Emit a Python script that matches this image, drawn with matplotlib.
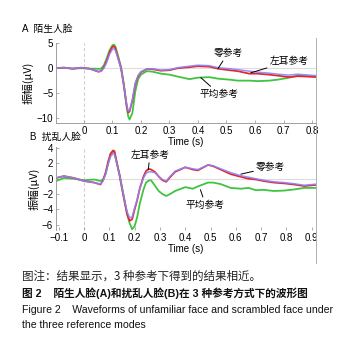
import matplotlib
matplotlib.use("Agg")
import matplotlib.pyplot as plt
from matplotlib.lines import Line2D

plt.rcParams['font.family'] = ['Liberation Sans', 'Noto Sans CJK SC', 'DejaVu Sans']
plt.rcParams['axes.unicode_minus'] = True

# ---------------- Panel A data (陌生人脸) ----------------
tA = [-0.10, -0.07, -0.04, -0.01, 0.02, 0.04, 0.05, 0.06, 0.07, 0.08, 0.09, 0.10, 0.105, 0.11,
      0.12, 0.13, 0.14, 0.15, 0.155, 0.16, 0.17, 0.18, 0.19, 0.20, 0.22, 0.24, 0.27, 0.30,
      0.33, 0.37, 0.40, 0.44, 0.47, 0.51, 0.54, 0.58, 0.61, 0.65, 0.68, 0.72, 0.75, 0.79, 0.82]
redA = [0.0, 0.1, -0.1, 0.1, -0.1, -0.5, -0.7, -0.6, 0.2, 1.5, 3.2, 4.3, 4.4, 4.0,
        2.0, 0.0, -3.5, -7.6, -8.9, -8.7, -6.5, -3.2, -1.6, -0.8, -0.2, -0.2, -0.5, -0.4,
        0.0, 0.2, 0.4, 0.3, -0.1, -0.4, -0.6, -1.1, -1.1, -1.3, -1.5, -1.8, -1.6, -1.7, -1.8]
blueA = [0.0, 0.1, -0.1, 0.1, -0.1, -0.5, -0.7, -0.6, 0.0, 1.2, 2.8, 3.8, 3.9, 3.6,
         1.9, 0.0, -3.4, -7.3, -8.6, -8.5, -6.3, -3.0, -1.5, -0.7, -0.2, -0.1, -0.4, -0.3,
         0.1, 0.4, 0.6, 0.5, 0.1, -0.1, -0.3, -0.6, -0.8, -1.0, -1.2, -1.4, -1.2, -1.4, -1.5]
greenA = [0.0, 0.1, -0.1, 0.0, -0.1, -0.1, -0.15, -0.1, 0.6, 2.0, 3.6, 4.6, 4.7, 4.4,
          2.4, 0.3, -3.2, -7.8, -9.6, -10.3, -9.0, -4.7, -2.2, -1.3, -0.6, -0.7, -1.1, -1.3,
          -1.7, -2.2, -1.9, -1.8, -2.1, -2.3, -2.5, -2.5, -2.6, -2.5, -2.3, -1.9, -1.5, -1.6, -1.7]

# ---------------- Panel B data (扰乱人脸) ----------------
tB = [-0.11, -0.08, -0.04, 0.0, 0.04, 0.065, 0.075, 0.085, 0.095, 0.105, 0.115, 0.12,
      0.13, 0.14, 0.15, 0.16, 0.17, 0.18, 0.19, 0.20, 0.21, 0.22, 0.235, 0.245, 0.255,
      0.265, 0.28, 0.295, 0.31, 0.325, 0.34, 0.36, 0.40, 0.43, 0.45, 0.49, 0.51, 0.54,
      0.58, 0.62, 0.65, 0.68, 0.71, 0.75, 0.79, 0.83, 0.87, 0.92]
redB = [0.1, 0.35, 0.1, -0.3, -0.5, -0.75, -0.2, 0.8, 2.2, 3.3, 3.7, 3.6,
        2.0, 0.5, -1.3, -3.0, -4.6, -5.5, -5.3, -4.0, -2.8, -1.3, 0.3, 1.0, 1.3,
        1.2, 0.9, 0.3, -0.2, -0.4, 0.2, 0.9, 1.5, 1.2, 1.1, 1.8, 1.65, 1.2,
        0.6, 0.25, 0.0, -0.1, -0.3, -0.5, -0.6, -0.75, -0.95, -0.8]
blueB = [0.1, 0.35, 0.1, -0.3, -0.5, -0.7, -0.3, 0.6, 1.9, 2.9, 3.3, 3.2,
         1.9, 0.5, -1.2, -2.8, -4.3, -5.1, -5.0, -3.8, -2.7, -1.3, 0.1, 0.7, 0.9,
         0.9, 0.8, 0.3, -0.1, -0.3, 0.3, 1.0, 1.5, 1.3, 1.2, 1.8, 1.7, 1.3,
         0.8, 0.4, 0.2, 0.0, -0.2, -0.4, -0.5, -0.65, -0.85, -0.7]
greenB = [-0.3, 0.1, 0.0, -0.2, -0.1, -0.3, -0.1, 0.6, 2.0, 3.2, 3.6, 3.5,
          2.0, 0.6, -1.1, -2.8, -4.6, -5.8, -6.6, -6.2, -5.0, -3.3, -1.4, -0.5, -0.25,
          -0.2, -0.9, -1.6, -2.0, -2.25, -2.0, -1.6, -1.1, -1.3, -1.0, -0.5, -0.5, -0.7,
          -1.2, -1.3, -1.2, -1.5, -1.45, -1.6, -1.55, -1.4, -1.2, -1.2]

xticksA = [0, 0.1, 0.2, 0.3, 0.4, 0.5, 0.6, 0.7, 0.8]
xticksB = [-0.1, 0, 0.1, 0.2, 0.3, 0.4, 0.5, 0.6, 0.7, 0.8, 0.9]
yticksA = [-10, -5, 0, 5]
yticksB = [-6, -4, -2, 0, 2, 4]

RED = '#e8262a'
BLUE = '#8a84ff'
GREEN = '#3fc43f'
SPINE = '#a0a0a0'

W, H = 348, 344
fig = plt.figure(figsize=(W / 100, H / 100), dpi=100)
cjk = ['Noto Sans CJK SC', 'DejaVu Sans']


def ax_rect(l, t, r, b):
    return [l / W, 1 - b / H, (r - l) / W, (b - t) / H]


def style(ax, xticks, yticks, xlim, ylim, bottom_spine):
    ax.set_xlim(*xlim)
    ax.set_ylim(*ylim)
    ax.axhline(0, color='#dddddd', lw=0.8, zorder=0)
    ax.axvline(0, color='#d0d0d0', lw=0.8, ls=(0, (3, 2)), zorder=0)
    for s in ['top', 'right']:
        ax.spines[s].set_visible(False)
    ax.spines['left'].set_color(SPINE)
    ax.spines['left'].set_linewidth(0.7)
    ax.spines['bottom'].set_color(SPINE)
    ax.spines['bottom'].set_linewidth(0.7)
    ax.spines['bottom'].set_visible(bottom_spine)
    ax.set_xticks(xticks)
    ax.set_xticklabels([('%g' % v).replace('-', '\u2212') for v in xticks])
    ax.set_yticks(yticks)
    ax.set_yticklabels([('%g' % v).replace('-', '\u2212') for v in yticks])
    ax.tick_params(direction='in', length=2.5, width=0.6, color=SPINE,
                   labelsize=7, pad=2)
    ax.set_xlabel('Time (s)', fontsize=7, labelpad=1)
    ax.set_ylabel('振幅(μV)', fontsize=7.8, labelpad=2, family=cjk)
    ax.patch.set_alpha(0)


axA = fig.add_axes(ax_rect(56, 43, 316, 123))
axA.plot(tA, greenA, color=GREEN, lw=1.3)
axA.plot(tA, redA, color=RED, lw=1.3)
axA.plot(tA, blueA, color=BLUE, lw=1.1, alpha=0.9)
style(axA, xticksA, yticksA, (-0.098, 0.814), (-11, 5.05), True)

axB = fig.add_axes(ax_rect(56, 147, 316, 230))
axB.plot(tB, greenB, color=GREEN, lw=1.3)
axB.plot(tB, redB, color=RED, lw=1.3)
axB.plot(tB, blueB, color=BLUE, lw=1.1, alpha=0.9)
style(axB, xticksB, yticksB, (-0.111, 0.917), (-6.7, 4.15), False)

arrow = dict(arrowstyle='-', color='black', lw=0.7, shrinkA=0, shrinkB=0)
afs = 7

# Panel A annotations
axA.annotate('零参考', xy=(0.47, -0.1), xytext=(0.505, 3.0), fontsize=afs, family=cjk,
             ha='center', va='center', arrowprops=arrow)
axA.annotate('左耳参考', xy=(0.585, -0.94), xytext=(0.72, 1.4), fontsize=afs, family=cjk,
             ha='center', va='center', arrowprops=arrow)
axA.annotate('平均参考', xy=(0.41, -1.9), xytext=(0.475, -5.2), fontsize=afs, family=cjk,
             ha='center', va='center', arrowprops=arrow)

# Panel B annotations
axB.annotate('左耳参考', xy=(0.254, 1.17), xytext=(0.26, 3.1), fontsize=afs, family=cjk,
             ha='center', va='center', arrowprops=arrow)
axB.annotate('零参考', xy=(0.62, 0.6), xytext=(0.738, 1.5), fontsize=afs, family=cjk,
             ha='center', va='center', arrowprops=arrow)
axB.annotate('平均参考', xy=(0.46, -1.43), xytext=(0.48, -3.4), fontsize=afs, family=cjk,
             ha='center', va='center', arrowprops=arrow)

# Panel titles
fig.text(22 / W, 1 - 29 / H, 'A  陌生人脸', fontsize=7, family=['Liberation Sans', 'Noto Sans CJK SC'],
         ha='left', va='center')
fig.text(30 / W, 1 - 137 / H, 'B  扰乱人脸', fontsize=7, family=['Liberation Sans', 'Noto Sans CJK SC'],
         ha='left', va='center')

# right border line
fig.add_artist(Line2D([316 / W, 316 / W], [1 - 38 / H, 1 - 263 / H], color='#b0b0b0', lw=0.7))

# Caption
capfam = ['Liberation Sans', 'Noto Sans CJK SC']
fig.text(22 / W, 1 - 276 / H, '图注：结果显示，3 种参考下得到的结果相近。', fontsize=8.3,
         family=cjk, ha='left', va='center', color='#222222')
fig.text(22 / W, 1 - 293 / H, '图 2    陌生人脸(A)和扰乱人脸(B)在 3 种参考方式下的波形图', fontsize=7.7,
         family=capfam, ha='left', va='center', fontweight='bold', color='#111111')
fig.text(22 / W, 1 - 310 / H, 'Figure 2    Waveforms of unfamiliar face and scrambled face under',
         fontsize=7.6, family=capfam, ha='left', va='center', color='#111111')
fig.text(22 / W, 1 - 325 / H, 'the three reference modes', fontsize=7.6, family=capfam,
         ha='left', va='center', color='#111111')

fig.savefig('out.png', dpi=100)
